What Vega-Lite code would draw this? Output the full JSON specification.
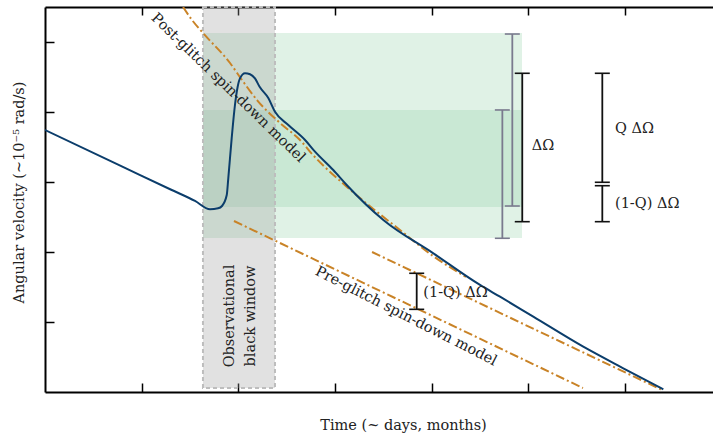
{
  "$schema": "https://vega.github.io/schema/vega-lite/v6.json",
  "autosize": {"type": "none"},
  "padding": {"left": 45, "top": 7, "right": 0, "bottom": 42},
  "width": 668,
  "height": 385,
  "background": "white",
  "config": {
    "view": {"stroke": null},
    "axis": {"grid": false, "labels": false, "domainColor": "black", "domainWidth": 2, "tickColor": "black", "tickWidth": 1.5,
             "titleFont": "DejaVu Serif", "titleFontSize": 14.5, "titleFontWeight": "normal", "titleColor": "#222"}
  },
  "datasets": {
    "observed": [
      {"t": 0, "omega": 3.743}, {"t": 0.8, "omega": 3.22}, {"t": 1.3, "omega": 2.893}, {"t": 1.552, "omega": 2.729}, {"t": 1.707, "omega": 2.61}, {"t": 1.79, "omega": 2.624},
      {"t": 1.831, "omega": 2.657}, {"t": 1.88, "omega": 2.814}, {"t": 1.896, "omega": 3.053}, {"t": 1.931, "omega": 3.624},
      {"t": 1.965, "omega": 4.1}, {"t": 1.993, "omega": 4.361}, {"t": 2.017, "omega": 4.481}, {"t": 2.069, "omega": 4.553},
      {"t": 2.121, "omega": 4.539}, {"t": 2.172, "omega": 4.48}, {"t": 2.22, "omega": 4.36},
      {"t": 2.31, "omega": 4.2}, {"t": 2.379, "omega": 4.004}, {"t": 2.517, "omega": 3.814}, {"t": 2.69, "omega": 3.6},
      {"t": 2.793, "omega": 3.433}, {"t": 2.982, "omega": 3.171}, {"t": 3.121, "omega": 2.957}, {"t": 3.5, "omega": 2.457},
      {"t": 4.017, "omega": 1.981}, {"t": 4.5, "omega": 1.529}, {"t": 4.707, "omega": 1.361}, {"t": 5.051, "omega": 1.076},
      {"t": 5.568, "omega": 0.647}, {"t": 5.982, "omega": 0.339}, {"t": 6.396, "omega": 0.039}
    ],
    "postModel": [
      {"t": 1.428, "omega": 5.5}, {"t": 1.521, "omega": 5.314}, {"t": 1.634, "omega": 5.129}, {"t": 1.914, "omega": 4.7},
      {"t": 2.038, "omega": 4.457}, {"t": 2.193, "omega": 4.171}, {"t": 2.431, "omega": 3.843}, {"t": 2.638, "omega": 3.6},
      {"t": 2.772, "omega": 3.386}, {"t": 3.124, "omega": 2.929}, {"t": 3.672, "omega": 2.314}, {"t": 4.014, "omega": 1.943},
      {"t": 4.355, "omega": 1.643}
    ],
    "preModel": [{"t": 1.955, "omega": 2.443}, {"t": 5.565, "omega": 0.057}],
    "asymptote": [{"t": 3.383, "omega": 2.0}, {"t": 6.383, "omega": 0.029}],
    "bands": [
      {"t0": 1.634, "t1": 4.934, "lo": 2.2, "hi": 5.129, "band": "outer"},
      {"t0": 1.634, "t1": 4.934, "lo": 2.643, "hi": 4.029, "band": "inner"}
    ],
    "window": [{"t0": 1.634, "t1": 2.379, "lo": 0.057, "hi": 5.5}],
    "bars": [
      {"t": 4.834, "lo": 2.657, "hi": 5.114, "kind": "model"},
      {"t": 4.731, "lo": 2.196, "hi": 4.029, "kind": "model"},
      {"t": 4.937, "lo": 2.433, "hi": 4.553, "kind": "glitch"},
      {"t": 5.765, "lo": 2.996, "hi": 4.553, "kind": "glitch"},
      {"t": 5.765, "lo": 2.433, "hi": 2.947, "kind": "glitch"},
      {"t": 3.845, "lo": 1.181, "hi": 1.696, "kind": "glitch"}
    ],
    "deltaLabels": [
      {"t": 5.035, "omega": 3.514, "text": "ΔΩ"},
      {"t": 5.896, "omega": 3.764, "text": "Q ΔΩ"},
      {"t": 5.896, "omega": 2.686, "text": "(1-Q)  ΔΩ"},
      {"t": 3.913, "omega": 1.41, "text": "(1-Q)  ΔΩ"}
    ],
    "postLabel": [{"t": 1.893, "omega": 4.343, "text": "Post-glitch spin-down model"}],
    "preLabel": [{"t": 3.734, "omega": 1.079, "text": "Pre-glitch spin-down model"}],
    "windowLabel": [
      {"t": 1.914, "omega": 1.086, "text": "Observational"},
      {"t": 2.136, "omega": 1.086, "text": "black window"}
    ]
  },
  "resolve": {"axis": {"x": "independent", "y": "independent"}, "scale": {"color": "independent"}},
  "layer": [
    {
      "data": {"name": "bands"},
      "mark": {"type": "rect"},
      "encoding": {
        "x": {"field": "t0", "type": "quantitative", "scale": {"domain": [0, 6.91], "nice": false, "zero": false},
              "axis": {"orient": "top", "values": [1, 2, 3, 4, 5, 6], "tickSize": -8, "title": null}},
        "x2": {"field": "t1"},
        "y": {"field": "lo", "type": "quantitative", "scale": {"domain": [0, 5.5], "nice": false, "zero": false},
              "axis": {"orient": "left", "values": [1, 2, 3, 4, 5], "tickSize": -9, "title": "Angular velocity  (~10⁻⁵ rad/s)",
                       "titleX": -22, "titleY": 185, "titleBaseline": "alphabetic", "titleAngle": -90}},
        "y2": {"field": "hi"},
        "color": {"field": "band", "type": "nominal", "scale": {"domain": ["outer", "inner"], "range": ["#e0f2e6", "#c9e8d4"]}, "legend": null}
      }
    },
    {
      "data": {"name": "window"},
      "mark": {"type": "rect", "fill": "#9a9a9a", "fillOpacity": 0.3, "stroke": "#bdbdbd", "strokeWidth": 2, "strokeDash": [4, 3]},
      "encoding": {
        "x": {"field": "t0", "type": "quantitative", "axis": null},
        "x2": {"field": "t1"},
        "y": {"field": "lo", "type": "quantitative", "axis": null},
        "y2": {"field": "hi"}
      }
    },
    {
      "data": {"name": "preModel"},
      "mark": {"type": "line", "color": "#c98327", "strokeWidth": 2, "strokeDash": [9, 3, 2, 3], "clip": true},
      "encoding": {
        "x": {"field": "t", "type": "quantitative", "axis": null},
        "y": {"field": "omega", "type": "quantitative", "axis": null}
      }
    },
    {
      "data": {"name": "asymptote"},
      "mark": {"type": "line", "color": "#c98327", "strokeWidth": 2, "strokeDash": [9, 3, 2, 3], "clip": true},
      "encoding": {
        "x": {"field": "t", "type": "quantitative", "axis": null},
        "y": {"field": "omega", "type": "quantitative", "axis": null}
      }
    },
    {
      "data": {"name": "postModel"},
      "mark": {"type": "line", "color": "#c98327", "strokeWidth": 2, "strokeDash": [9, 3, 2, 3], "interpolate": "monotone", "clip": true},
      "encoding": {
        "x": {"field": "t", "type": "quantitative", "axis": null},
        "y": {"field": "omega", "type": "quantitative", "axis": null}
      }
    },
    {
      "data": {"name": "observed"},
      "mark": {"type": "line", "color": "#0b3d6b", "strokeWidth": 2, "interpolate": "monotone", "clip": true},
      "encoding": {
        "x": {"field": "t", "type": "quantitative",
              "axis": {"orient": "bottom", "values": [1, 2, 3, 4, 5, 6], "tickSize": -9, "title": "Time (~ days, months)",
                       "titleX": 358, "titleY": 37, "titleBaseline": "alphabetic"}},
        "y": {"field": "omega", "type": "quantitative", "axis": null}
      }
    },
    {
      "data": {"name": "bars"},
      "mark": {"type": "rule", "strokeWidth": 1.8},
      "encoding": {
        "x": {"field": "t", "type": "quantitative", "axis": null},
        "y": {"field": "lo", "type": "quantitative", "axis": null},
        "y2": {"field": "hi"},
        "color": {"field": "kind", "type": "nominal", "scale": {"domain": ["model", "glitch"], "range": ["#7a7a8e", "#111111"]}, "legend": null}
      }
    },
    {
      "data": {"name": "bars"},
      "mark": {"type": "tick", "orient": "horizontal", "size": 15, "thickness": 1.6, "opacity": 1},
      "encoding": {
        "x": {"field": "t", "type": "quantitative", "axis": null},
        "y": {"field": "lo", "type": "quantitative", "axis": null},
        "color": {"field": "kind", "type": "nominal", "scale": {"domain": ["model", "glitch"], "range": ["#7a7a8e", "#111111"]}, "legend": null}
      }
    },
    {
      "data": {"name": "bars"},
      "mark": {"type": "tick", "orient": "horizontal", "size": 15, "thickness": 1.6, "opacity": 1},
      "encoding": {
        "x": {"field": "t", "type": "quantitative", "axis": null},
        "y": {"field": "hi", "type": "quantitative", "axis": null},
        "color": {"field": "kind", "type": "nominal", "scale": {"domain": ["model", "glitch"], "range": ["#7a7a8e", "#111111"]}, "legend": null}
      }
    },
    {
      "data": {"name": "deltaLabels"},
      "mark": {"type": "text", "align": "left", "baseline": "middle", "font": "DejaVu Serif", "fontSize": 14.5, "color": "#222"},
      "encoding": {
        "x": {"field": "t", "type": "quantitative", "axis": null},
        "y": {"field": "omega", "type": "quantitative", "axis": null},
        "text": {"field": "text"}
      }
    },
    {
      "data": {"name": "postLabel"},
      "mark": {"type": "text", "align": "center", "baseline": "middle", "angle": 44, "font": "DejaVu Serif", "fontSize": 14.5, "color": "#222"},
      "encoding": {
        "x": {"field": "t", "type": "quantitative", "axis": null},
        "y": {"field": "omega", "type": "quantitative", "axis": null},
        "text": {"field": "text"}
      }
    },
    {
      "data": {"name": "preLabel"},
      "mark": {"type": "text", "align": "center", "baseline": "middle", "angle": 27, "font": "DejaVu Serif", "fontSize": 14.5, "color": "#222"},
      "encoding": {
        "x": {"field": "t", "type": "quantitative", "axis": null},
        "y": {"field": "omega", "type": "quantitative", "axis": null},
        "text": {"field": "text"}
      }
    },
    {
      "data": {"name": "windowLabel"},
      "mark": {"type": "text", "align": "center", "baseline": "middle", "angle": 270, "font": "DejaVu Serif", "fontSize": 14.5, "color": "#222"},
      "encoding": {
        "x": {"field": "t", "type": "quantitative", "axis": null},
        "y": {"field": "omega", "type": "quantitative", "axis": null},
        "text": {"field": "text"}
      }
    }
  ]
}
